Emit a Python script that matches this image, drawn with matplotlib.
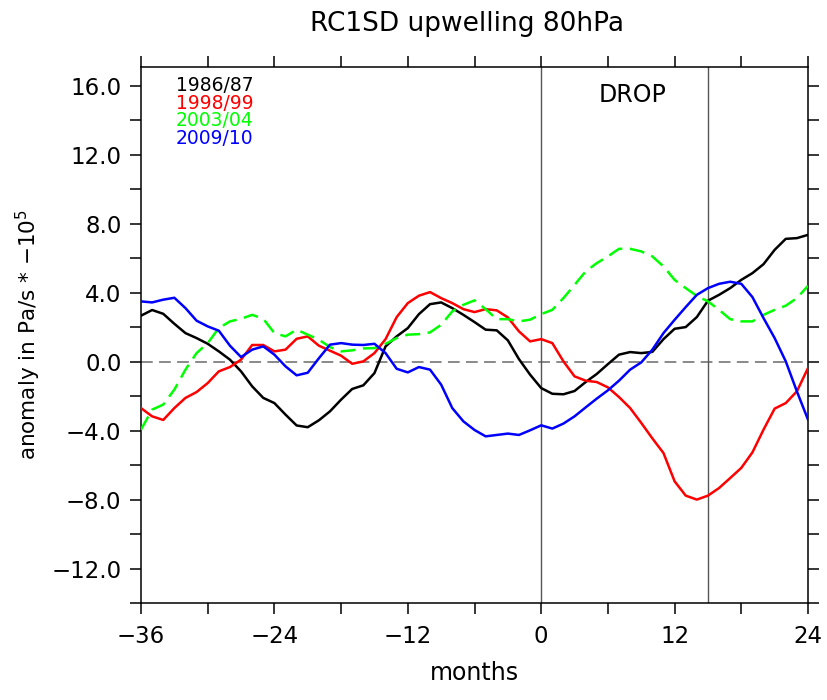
import numpy as np
import matplotlib
matplotlib.use("Agg")
import matplotlib.pyplot as plt
from matplotlib.ticker import MultipleLocator, FuncFormatter

# months relative to the drop
months = np.arange(-36, 25)

# upwelling anomalies at 80 hPa
w_1986 = [2.67, 3.0, 2.78, 2.2, 1.66, 1.37, 1.04, 0.6, 0.12, -0.56, -1.43, -2.1,
          -2.4, -3.07, -3.7, -3.8, -3.4, -2.88, -2.2, -1.58, -1.37, -0.66, 0.89, 1.47,
          1.95, 2.76, 3.34, 3.44, 3.11, 2.72, 2.3, 1.86, 1.82, 1.24, 0.15, -0.75,
          -1.53, -1.86, -1.89, -1.7, -1.18, -0.71, -0.14, 0.41, 0.56, 0.5, 0.57, 1.31,
          1.91, 2.01, 2.59, 3.54, 3.88, 4.27, 4.75, 5.14, 5.66, 6.49, 7.13, 7.17, 7.36]
w_1998 = [-2.69, -3.17, -3.38, -2.69, -2.1, -1.76, -1.24, -0.56, -0.31, 0.12, 0.97, 0.97,
          0.6, 0.7, 1.33, 1.47, 0.93, 0.64, 0.35, -0.12, 0.02, 0.5, 1.31, 2.59,
          3.4, 3.83, 4.04, 3.69, 3.4, 3.05, 2.88, 3.05, 2.98, 2.57, 1.76, 1.18,
          1.31, 1.08, 0.02, -0.85, -1.1, -1.18, -1.49, -2.05, -2.69, -3.55, -4.45, -5.3,
          -6.94, -7.77, -8.0, -7.77, -7.33, -6.75, -6.16, -5.26, -3.94, -2.72, -2.4, -1.72, -0.37]
w_2003 = [-3.94, -2.78, -2.49, -1.62, -0.46, 0.5, 1.08, 1.95, 2.34, 2.49, 2.72, 2.49,
          1.66, 1.47, 1.86, 1.57, 1.28, 0.85, 0.6, 0.66, 0.77, 0.79, 1.04, 1.37,
          1.57, 1.6, 1.7, 2.14, 2.92, 3.3, 3.56, 3.05, 2.47, 2.47, 2.34, 2.44,
          2.76, 3.01, 3.69, 4.46, 5.24, 5.72, 6.11, 6.55, 6.55, 6.4, 6.11, 5.53,
          4.75, 4.27, 3.82, 3.5, 3.01, 2.47, 2.34, 2.34, 2.72, 3.01, 3.25, 3.69, 4.4]
w_2009 = [3.5, 3.44, 3.6, 3.71, 3.11, 2.38, 2.05, 1.8, 0.93, 0.27, 0.7, 0.89,
          0.41, -0.27, -0.79, -0.64, 0.2, 0.99, 1.08, 0.99, 0.97, 1.04, 0.5, -0.41,
          -0.62, -0.31, -0.46, -1.33, -2.69, -3.46, -3.96, -4.33, -4.25, -4.17, -4.25, -3.98,
          -3.69, -3.88, -3.59, -3.17, -2.65, -2.14, -1.66, -1.1, -0.46, -0.04, 0.7, 1.66,
          2.43, 3.17, 3.88, 4.27, 4.52, 4.64, 4.52, 3.75, 2.53, 1.37, 0.02, -1.72, -3.36]

labels = ["1986/87", "1998/99", "2003/04", "2009/10"]
colors = ["black", "#ff0000", "#00ff00", "#0000ff"]
series = [w_1986, w_1998, w_2003, w_2009]
drop_lines = [0, 15]

fig = plt.figure(figsize=(8.27, 7.0), dpi=100)
ax = fig.add_axes([141/827, 1-603/700, 667/827, 536/700])

ax.axhline(0, color="#808080", lw=1.3, dashes=(6.5, 3.5), zorder=1)
for xv in drop_lines:
    ax.axvline(xv, color="#555555", lw=1.0, zorder=1)

for y, c, lab in zip(series, colors, labels):
    ls = (0, (6, 3)) if lab == "2003/04" else "-"
    ax.plot(months, y, color=c, lw=1.8, linestyle=ls, zorder=3)

ax.set_xlim(-36, 24)
ax.set_ylim(-14, 17.1)
ax.xaxis.set_major_locator(MultipleLocator(12))
ax.xaxis.set_minor_locator(MultipleLocator(6))
ax.yaxis.set_major_locator(MultipleLocator(4))
ax.yaxis.set_minor_locator(MultipleLocator(2))
ax.yaxis.set_major_formatter(FuncFormatter(lambda v, p: f"{v:.1f}".replace("-", "\u2212")))
ax.tick_params(which="both", direction="out", length=8, width=1.1,
               top=True, right=True, labelsize=16.5)
ax.tick_params(axis="x", pad=8)
ax.tick_params(axis="y", pad=6)
for s in ax.spines.values():
    s.set_linewidth(1.1)

ax.set_xlabel("months", fontsize=17, labelpad=9)
ax.set_ylabel("anomaly in Pa/s * $-10^5$", fontsize=15.5, labelpad=6)
fig.text(0.565, 0.966, "RC1SD upwelling 80hPa", ha="center", va="center", fontsize=19)

# year labels stacked in the upper left corner
ys = [0.9646, 0.9323, 0.8993, 0.8670]
for lab, c, yy in zip(labels, colors, ys):
    ax.text(0.0525, yy, lab, color=c, fontsize=13.5, transform=ax.transAxes,
            ha="left", va="center")
ax.text(0.7376, 0.9478, "DROP", fontsize=17, transform=ax.transAxes,
        ha="center", va="center")

fig.savefig("out.png", dpi=100)
